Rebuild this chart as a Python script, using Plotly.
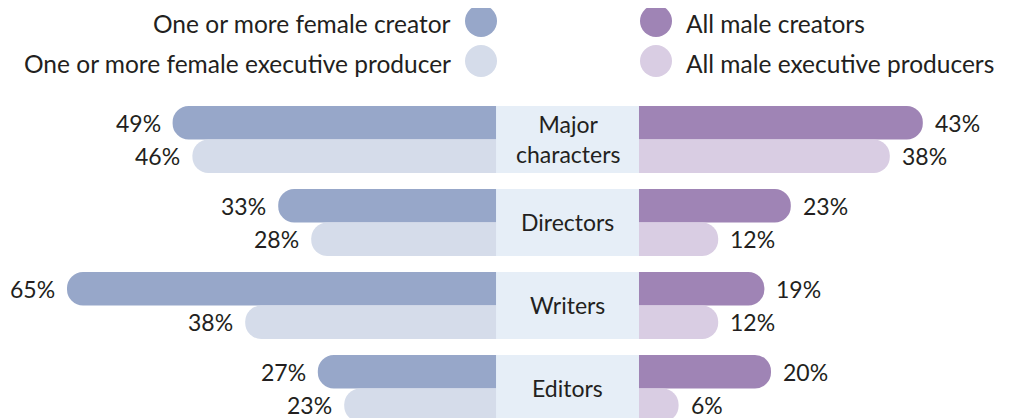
import plotly.graph_objects as go

# ---------------- data ----------------
categories = ["Major characters", "Directors", "Writers", "Editors"]
category_labels = ["Major<br>characters", "Directors", "Writers", "Editors"]
female_creator = [49, 33, 65, 27]
female_ep = [46, 28, 38, 23]
male_creators = [43, 23, 19, 20]
male_ep = [38, 12, 12, 6]
series_names = [
    "One or more female creator",
    "One or more female executive producer",
    "All male creators",
    "All male executive producers",
]

# ---------------- style ----------------
C_FC = "#97A7C9"
C_FEP = "#D5DCEA"
C_MC = "#9F84B5"
C_MEP = "#D9CDE3"
C_PANEL = "#E6EEF7"
TXT = "#231F20"
FONT = "Lato"
GAP = 10.83      # half width of the centre label panel, in % units
BW = 0.4035      # thickness of one bar, in category units
W, H = 1001, 410  # page adds an 8px body margin

fig = go.Figure()

def side_bar(vals, sign, color, offset, name):
    # bars start at the centre line; the centre panel drawn on top hides the inner part
    fig.add_trace(go.Bar(
        y=categories, x=[sign * (GAP + v) for v in vals], base=0, orientation="h",
        width=BW, offset=offset, name=name,
        marker=dict(color=color, line_width=0, cornerradius="50%"),
        showlegend=False))

side_bar(female_creator, -1, C_FC, -BW, series_names[0])
side_bar(female_ep, -1, C_FEP, 0, series_names[1])
side_bar(male_creators, 1, C_MC, -BW, series_names[2])
side_bar(male_ep, 1, C_MEP, 0, series_names[3])

# centre label panel (on top)
fig.add_trace(go.Bar(
    y=categories, x=[2 * GAP] * len(categories), base=-GAP, orientation="h",
    width=2 * BW, offset=-BW, marker=dict(color=C_PANEL, line_width=0),
    hoverinfo="skip", showlegend=False))

ann = []
for i, cat in enumerate(categories):
    for vals, sign, dy in [(female_creator, -1, -BW / 2), (female_ep, -1, BW / 2),
                           (male_creators, 1, -BW / 2), (male_ep, 1, BW / 2)]:
        v = vals[i]
        ann.append(dict(
            x=sign * (GAP + v), y=i + dy, xref="x", yref="y", text=f"{v}%",
            showarrow=False, xanchor="right" if sign < 0 else "left", yanchor="middle",
            xshift=-10 if sign < 0 else 10, font=dict(family=FONT, size=23, color=TXT)))
    ann.append(dict(
        x=0, y=cat, xref="x", yref="y", text=category_labels[i], showarrow=False,
        xanchor="center", yanchor="middle", yshift=1,
        font=dict(family=FONT, size=23, color=TXT)))

# custom legend
shapes = []
legend_items = [
    (series_names[0], C_FC, 473, 13, "left"),
    (series_names[1], C_FEP, 473, 53, "left"),
    (series_names[2], C_MC, 648, 13, "right"),
    (series_names[3], C_MEP, 648, 53, "right"),
]
for name, color, cx, cy, side in legend_items:
    r = 16
    shapes.append(dict(type="circle", xref="paper", yref="paper",
                       x0=(cx - r) / W, x1=(cx + r) / W,
                       y0=1 - (cy + r) / H, y1=1 - (cy - r) / H,
                       fillcolor=color, line_width=0, layer="above"))
    ty = cy + 2.5
    if side == "left":
        ann.append(dict(x=(cx - 29) / W, y=1 - ty / H, xref="paper", yref="paper",
                        text=name, showarrow=False, xanchor="right", yanchor="middle",
                        borderpad=0, font=dict(family=FONT, size=24.5, color=TXT)))
    else:
        ann.append(dict(x=(cx + 29) / W, y=1 - ty / H, xref="paper", yref="paper",
                        text=name, showarrow=False, xanchor="left", yanchor="middle",
                        borderpad=0, font=dict(family=FONT, size=24.5, color=TXT)))

fig.update_layout(
    width=W, height=H, margin=dict(l=0, r=0, t=0, b=0),
    paper_bgcolor="white", plot_bgcolor="white", barmode="overlay",
    showlegend=False, annotations=ann, shapes=shapes,
    xaxis=dict(range=[-84.77, 66.89], visible=False, fixedrange=True),
    yaxis=dict(type="category", categoryorder="array", categoryarray=categories,
               range=[3.3554, -1.5843], visible=False, fixedrange=True),
)

fig.write_html("out.html")
